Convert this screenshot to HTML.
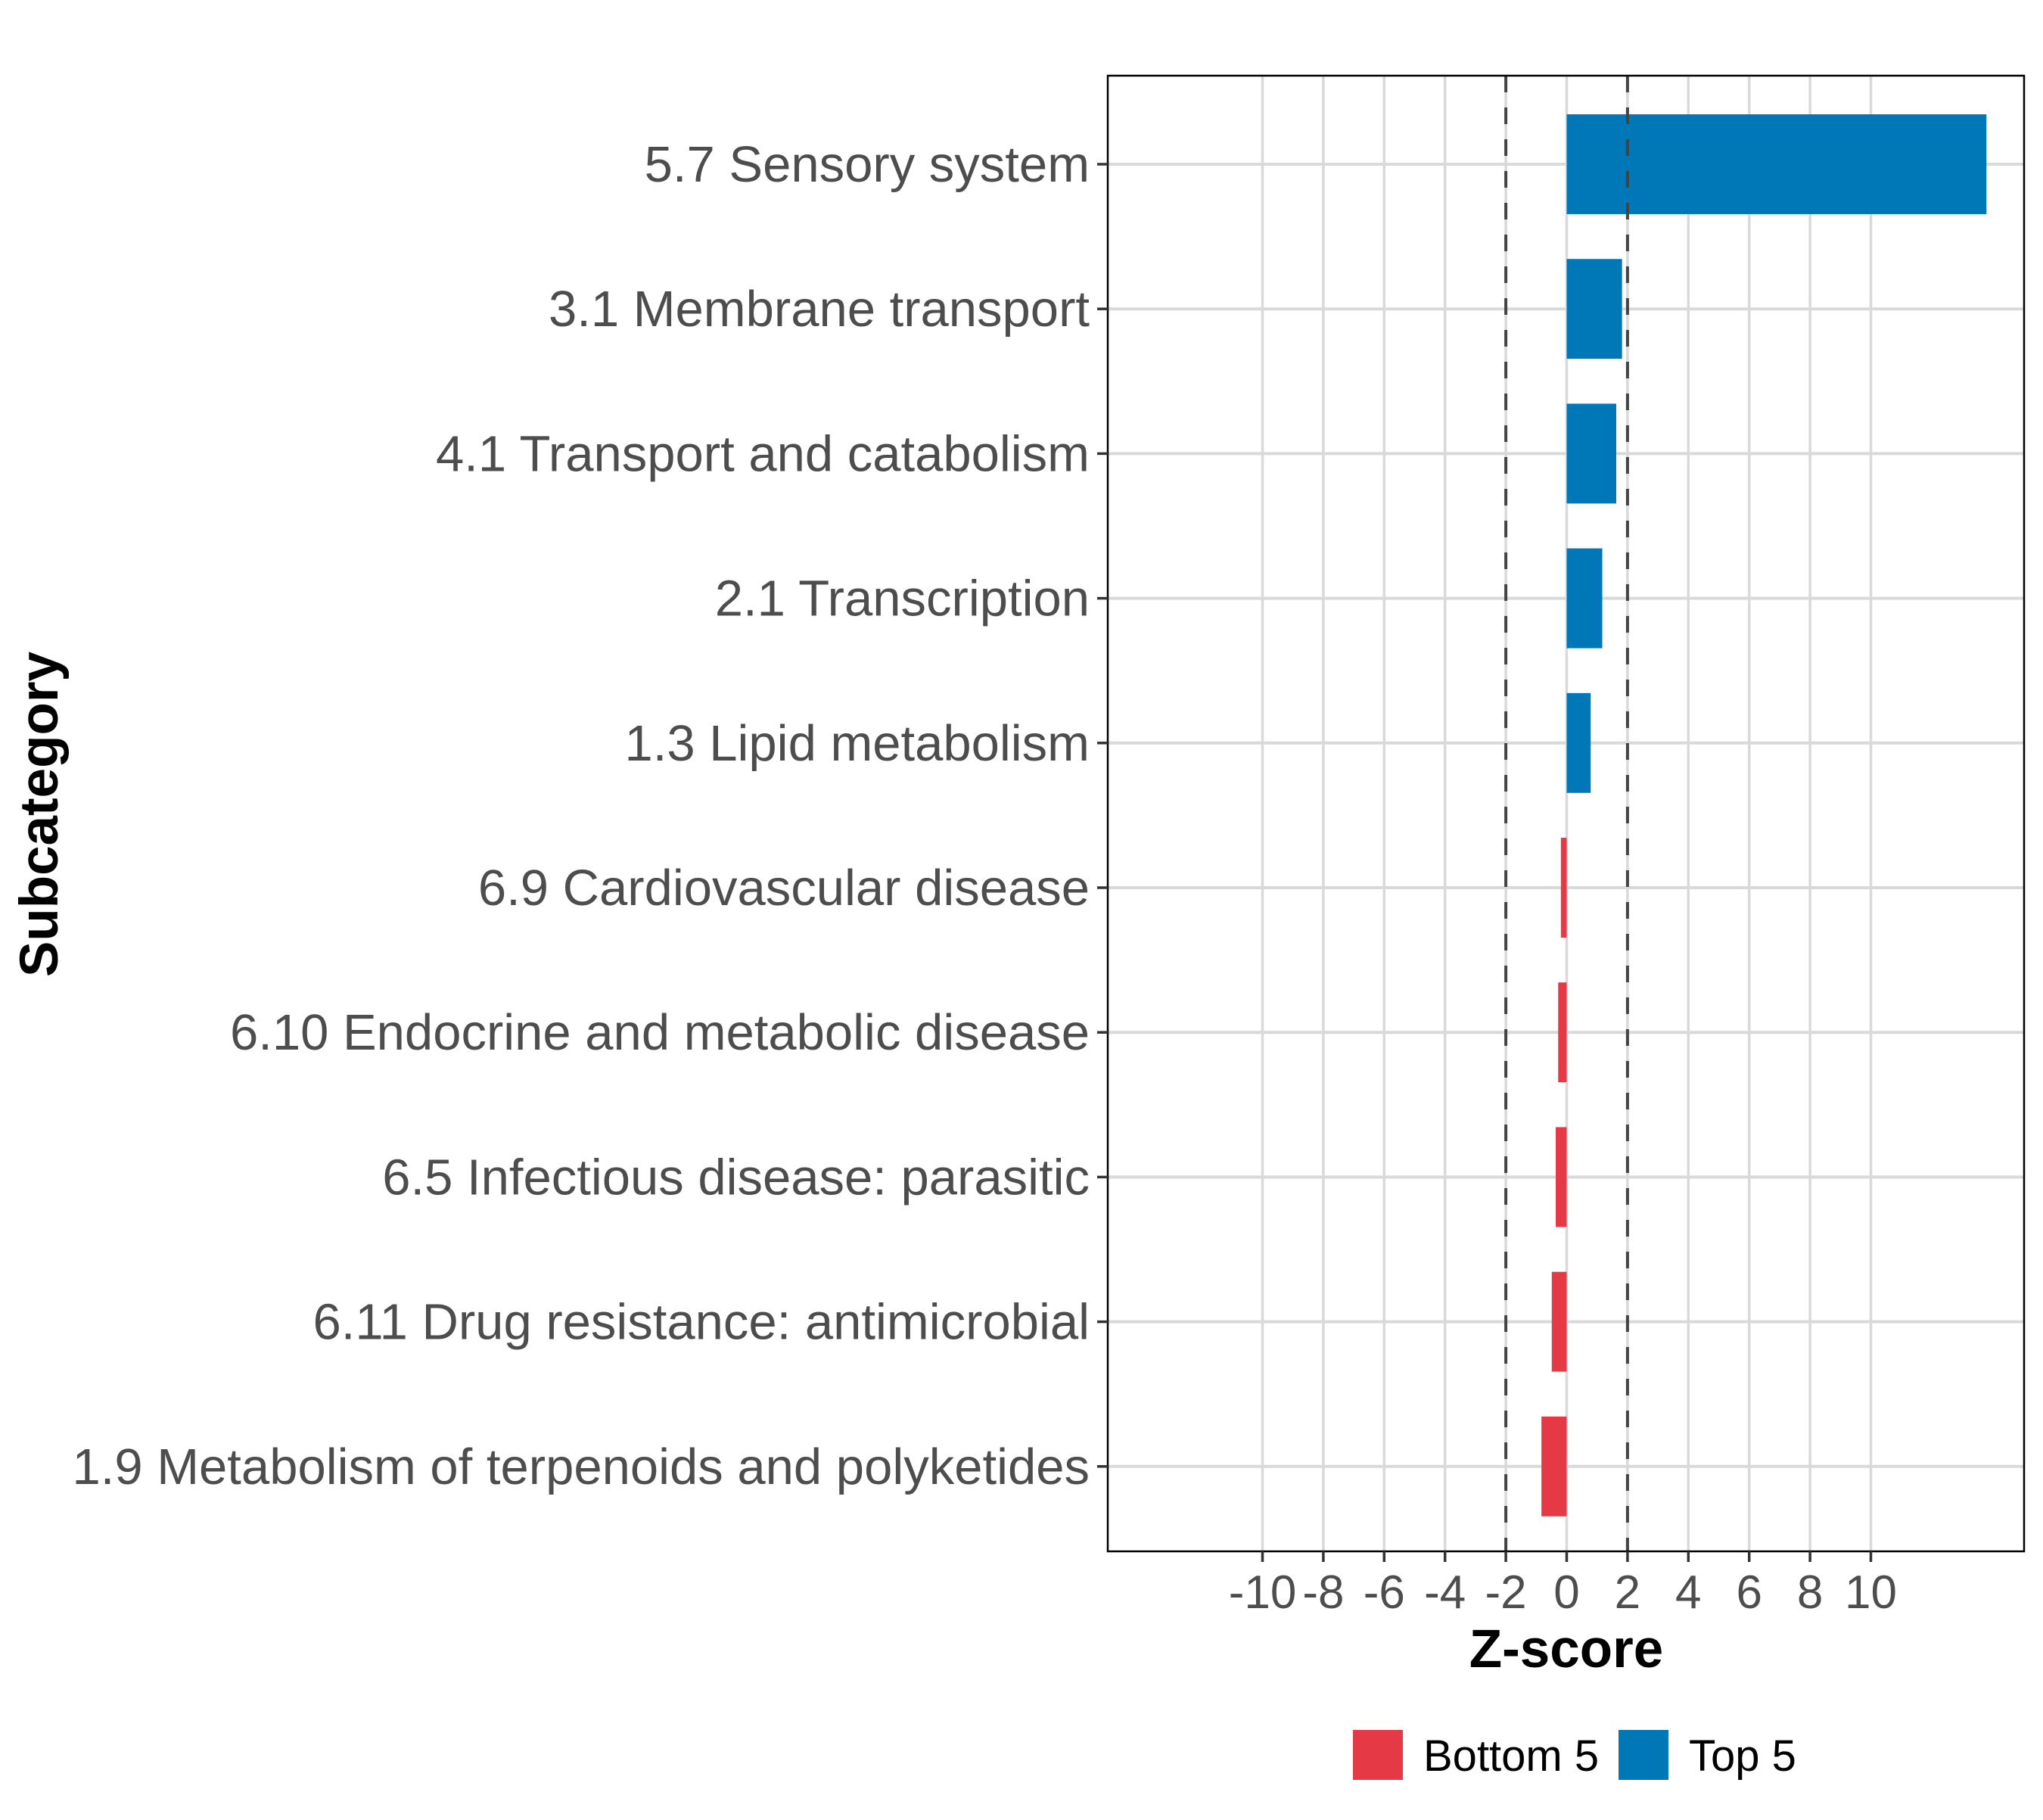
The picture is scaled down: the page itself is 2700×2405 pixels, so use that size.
<!DOCTYPE html>
<html><head><meta charset="utf-8"><style>
body{margin:0;background:#fff}
svg text{font-family:"Liberation Sans",sans-serif}
</style></head><body>
<svg id="chart" width="2700" height="2400" xmlns="http://www.w3.org/2000/svg">
<g id="grid"></g>
<g id="bars"></g>
<g id="refs"></g>
<rect x="1464" y="100" width="1211" height="1950" fill="none" stroke="#000" stroke-width="2.5"/>
<g id="yaxis"></g>
<g id="xaxis"></g>
<text x="2070" y="2203" font-size="71" font-weight="bold" text-anchor="middle" fill="#000">Z-score</text>
<text transform="translate(76,1076) rotate(-90)" font-size="71" font-weight="bold" text-anchor="middle" fill="#000">Subcategory</text>
<g>
<rect x="1788" y="2286" width="66" height="66" fill="#e63946"/>
<text x="1881" y="2340" font-size="58" fill="#000">Bottom 5</text>
<rect x="2139" y="2286" width="66" height="66" fill="#0077b6"/>
<text x="2232" y="2340" font-size="58" fill="#000">Top 5</text>
</g>
</svg>
<script>
const categories = ["5.7 Sensory system","3.1 Membrane transport","4.1 Transport and catabolism","2.1 Transcription","1.3 Lipid metabolism","6.9 Cardiovascular disease","6.10 Endocrine and metabolic disease","6.5 Infectious disease: parasitic","6.11 Drug resistance: antimicrobial","1.9 Metabolism of terpenoids and polyketides"];
const zscores = [13.8, 1.82, 1.63, 1.17, 0.79, -0.19, -0.28, -0.36, -0.49, -0.83];
const groups = ["Top 5","Top 5","Top 5","Top 5","Top 5","Bottom 5","Bottom 5","Bottom 5","Bottom 5","Bottom 5"];
const xTicks = [-10,-8,-6,-4,-2,0,2,4,6,8,10];
const refLines = [-2, 2];

const NS="http://www.w3.org/2000/svg";
const X0=2070.5, PX=40.2;
function xs(v){return X0+v*PX;}
const Y0=217, STEP=191.2;
function ys(i){return Y0+i*STEP;}
const colors={"Top 5":"#0077b6","Bottom 5":"#e63946"};
function mk(tag,attrs,parent){const e=document.createElementNS(NS,tag);for(const k in attrs)e.setAttribute(k,attrs[k]);parent.appendChild(e);return e;}
const grid=document.getElementById('grid'),bars=document.getElementById('bars'),refs=document.getElementById('refs'),ya=document.getElementById('yaxis'),xa=document.getElementById('xaxis');
xTicks.forEach(t=>{
  const l=mk('line',{x1:xs(t),x2:xs(t),y1:100,y2:2050,stroke:'#d9d9d9','stroke-width':3.5},grid);
  
  
  const tk=mk('line',{x1:xs(t),x2:xs(t),y1:2050,y2:2064,stroke:'#333','stroke-width':3.5},xa);
  
  
  const tx=mk('text',{x:xs(t),y:2125,'font-size':62,'text-anchor':'middle',fill:'#4d4d4d'},xa);
  tx.textContent=String(t);
  
  
});
categories.forEach((c,i)=>{
  const y=ys(i);
  const g=mk('line',{x1:1464,x2:2675,y1:y,y2:y,stroke:'#d9d9d9','stroke-width':4},grid);
  
  
  const v=zscores[i];
  const h=STEP*0.69;
  const b=mk('rect',{x:Math.min(xs(0),xs(v)),y:y-h/2,width:Math.abs(xs(v)-xs(0)),height:h,fill:colors[groups[i]]},bars);
  
  
  const tk=mk('line',{x1:1450,x2:1464,y1:y,y2:y,stroke:'#333','stroke-width':3.5},ya);
  
  
  const tx=mk('text',{x:1440,y:y+23,'font-size':67,'text-anchor':'end',fill:'#4d4d4d'},ya);
  tx.textContent=c;
  
  
});
refLines.forEach(r=>{
  const l=mk('line',{x1:xs(r),x2:xs(r),y1:100,y2:2050,stroke:'#444','stroke-width':4,'stroke-dasharray':'22,20'},refs);
  
  
});
</script>
</body></html>
